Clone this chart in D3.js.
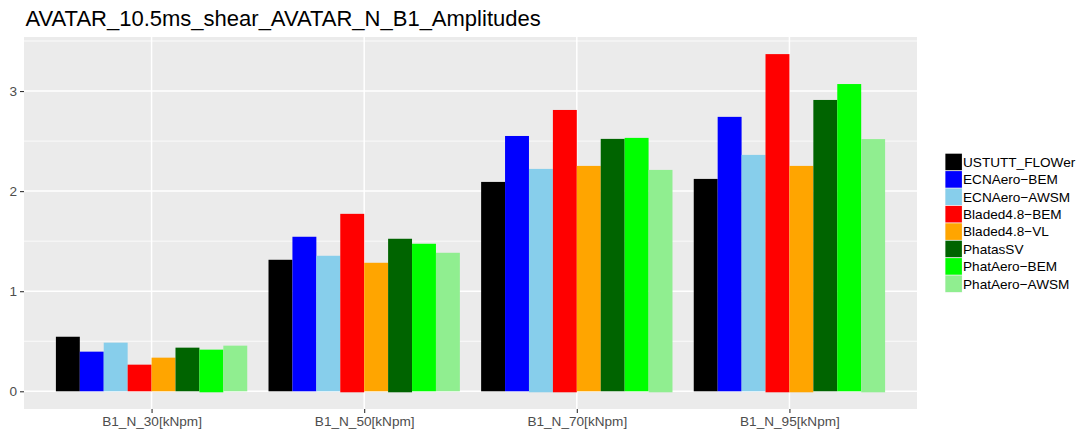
<!DOCTYPE html>
<html>
<head>
<meta charset="utf-8">
<script src="https://cdn.jsdelivr.net/npm/d3@7"></script>
<style>
  body { margin: 0; background: #fff; }
  text { font-family: 'Liberation Sans', Arial, Helvetica, sans-serif; }
</style>
</head>
<body>
<svg id="chart" width="1084" height="436"></svg>
<script>
// categories and series
let categories = ['B1_N_30[kNpm]', 'B1_N_50[kNpm]', 'B1_N_70[kNpm]', 'B1_N_95[kNpm]'];
let series = ['USTUTT_FLOWer', 'ECNAero\u2212BEM', 'ECNAero\u2212AWSM', 'Bladed4.8\u2212BEM',
  'Bladed4.8\u2212VL', 'PhatasSV', 'PhatAero\u2212BEM', 'PhatAero\u2212AWSM'];
let colors = ['#000000', '#0000ff', '#87ceeb', '#ff0000', '#ffa500', '#006400', '#00ff00', '#90ee90'];

// amplitude per series, one value per category
let USTUTT_FLOWer = [0.545, 1.314, 2.092, 2.122];
let ECNAero_BEM = [0.396, 1.544, 2.551, 2.742];
let ECNAero_AWSM = [0.486, 1.354, 2.222, 2.362];
let Bladed_BEM = [0.266, 1.773, 2.811, 3.369];
let Bladed_VL = [0.336, 1.284, 2.252, 2.252];
let PhatasSV = [0.436, 1.524, 2.522, 2.911];
let PhatAero_BEM = [0.416, 1.474, 2.532, 3.07];
let PhatAero_AWSM = [0.456, 1.384, 2.212, 2.52];
// small negative parts some bars reach below zero
let lows = [
  [0, 0, 0, 0],
  [0, 0, 0, 0],
  [0, 0, -0.01, 0],
  [0, -0.01, -0.01, -0.01],
  [0, 0, 0, -0.01],
  [0, -0.01, 0, 0],
  [-0.01, 0, 0, 0],
  [0, 0, -0.01, -0.01],
];
let values = [USTUTT_FLOWer, ECNAero_BEM, ECNAero_AWSM, Bladed_BEM,
  Bladed_VL, PhatasSV, PhatAero_BEM, PhatAero_AWSM];
let yTicks = [0, 1, 2, 3];
let yMinor = [0.5, 1.5, 2.5, 3.5];

let svg = d3.select('#chart');
let panel = { left: 24, right: 917, top: 37, bottom: 409 };

let bars = [];
values.forEach(function(vals, s) {
  vals.forEach(function(v, c) {
    bars.push({ cat: categories[c], s: s, v: v, low: lows[s][c] });
  });
});

// ggplot style discrete axis: 0.6 units of padding on each side
let unit = (panel.right - panel.left) / (categories.length - 1 + 1.2);
let x = d3.scalePoint()
  .domain(categories)
  .range([panel.left + 0.6 * unit, panel.right - 0.6 * unit]);
let groupW = 0.9 * unit;
let xs = d3.scaleBand()
  .domain(d3.range(series.length))
  .range([-groupW / 2, groupW / 2])
  .padding(0);

let y = d3.scaleLinear()
  .domain([-0.177, 3.54])
  .range([panel.bottom, panel.top]);

// panel background
svg.append('rect')
  .attr('x', panel.left)
  .attr('y', panel.top)
  .attr('width', panel.right - panel.left)
  .attr('height', panel.bottom - panel.top)
  .attr('fill', '#ebebeb');

let grid = svg.append('g');
grid.selectAll('.minor')
  .data(yMinor)
  .enter()
  .append('line')
  .attr('x1', panel.left)
  .attr('x2', panel.right)
  .attr('y1', function(d) { return y(d); })
  .attr('y2', function(d) { return y(d); })
  .attr('stroke', '#fff')
  .attr('stroke-width', 0.8);
grid.selectAll('.major')
  .data(yTicks)
  .enter()
  .append('line')
  .attr('x1', panel.left)
  .attr('x2', panel.right)
  .attr('y1', function(d) { return y(d); })
  .attr('y2', function(d) { return y(d); })
  .attr('stroke', '#fff')
  .attr('stroke-width', 1.5);
grid.selectAll('.vmajor')
  .data(categories)
  .enter()
  .append('line')
  .attr('x1', function(d) { return x(d); })
  .attr('x2', function(d) { return x(d); })
  .attr('y1', panel.top)
  .attr('y2', panel.bottom)
  .attr('stroke', '#fff')
  .attr('stroke-width', 1.5);

svg.append('g')
  .selectAll('rect')
  .data(bars)
  .enter()
  .append('rect')
  .attr('x', function(d) { return x(d.cat) + xs(d.s); })
  .attr('width', xs.bandwidth())
  .attr('y', function(d) { return y(d.v); })
  .attr('height', function(d) { return y(d.low) - y(d.v); })
  .attr('fill', function(d) { return colors[d.s]; });

// axes
let yAxis = svg.append('g')
  .attr('transform', 'translate(' + panel.left + ',0)')
  .call(d3.axisLeft(y).tickValues(yTicks).tickSize(4).tickPadding(3).tickFormat(d3.format('d')));
let xAxis = svg.append('g')
  .attr('transform', 'translate(0,' + panel.bottom + ')')
  .call(d3.axisBottom(x).tickSize(4).tickPadding(3));
[xAxis, yAxis].forEach(function(a) {
  a.select('.domain').remove();
  a.selectAll('line').attr('stroke', '#333').attr('stroke-width', 1.1);
  a.selectAll('text')
    .attr('fill', '#4d4d4d')
    .style('font-size', '13.6px')
    .style('font-family', "'Liberation Sans', Arial, sans-serif");
});

// title
svg.append('text')
  .attr('x', 25.5)
  .attr('y', 26)
  .attr('fill', '#000')
  .style('font-size', '22px')
  .text('AVATAR_10.5ms_shear_AVATAR_N_B1_Amplitudes');

// legend
let legend = svg.append('g')
  .attr('transform', 'translate(945,153.3)');
let keyH = 17.4;
let items = legend.selectAll('g')
  .data(series)
  .enter()
  .append('g')
  .attr('transform', function(d, i) { return 'translate(0,' + (i * keyH) + ')'; });
items.append('rect')
  .attr('width', 17.3)
  .attr('height', keyH)
  .attr('fill', '#f2f2f2')
  .attr('stroke', 'none');
items.append('rect')
  .attr('x', 0.4)
  .attr('y', 0.4)
  .attr('width', 16.5)
  .attr('height', keyH - 0.8)
  .attr('fill', function(d, i) { return colors[i]; });
items.append('text')
  .attr('x', 18)
  .attr('y', keyH / 2)
  .attr('dy', '0.36em')
  .attr('fill', '#000')
  .style('font-size', '13.6px')
  .text(function(d) { return d; });
</script>
</body>
</html>
